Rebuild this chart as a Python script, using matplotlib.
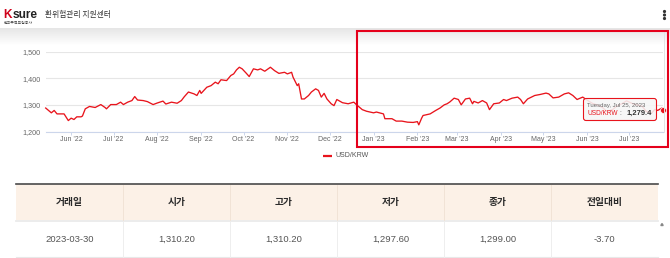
import matplotlib
matplotlib.use('Agg')
import matplotlib.pyplot as plt
from matplotlib.patches import Rectangle, FancyBboxPatch
import numpy as np
import pandas as pd

# ---------------- data ----------------
dates = [
    '2022-05-14', '2022-05-18', '2022-05-20', '2022-05-22', '2022-05-27', '2022-05-30',
    '2022-06-01', '2022-06-03', '2022-06-05', '2022-06-08', '2022-06-09', '2022-06-11',
    '2022-06-14', '2022-06-18', '2022-06-22', '2022-06-25', '2022-06-26', '2022-06-29',
    '2022-07-03', '2022-07-06', '2022-07-08', '2022-07-11', '2022-07-14', '2022-07-16',
    '2022-07-18', '2022-07-22', '2022-07-25', '2022-07-29', '2022-08-01', '2022-08-05',
    '2022-08-07', '2022-08-11', '2022-08-15', '2022-08-18', '2022-08-20', '2022-08-23',
    '2022-08-27', '2022-08-29', '2022-08-31', '2022-09-01', '2022-09-05', '2022-09-08',
    '2022-09-11', '2022-09-13', '2022-09-15', '2022-09-19', '2022-09-22', '2022-09-24',
    '2022-09-26', '2022-09-28', '2022-09-30', '2022-10-03', '2022-10-05', '2022-10-08',
    '2022-10-11', '2022-10-13', '2022-10-16', '2022-10-20', '2022-10-23', '2022-10-26',
    '2022-10-30', '2022-11-01', '2022-11-04', '2022-11-05', '2022-11-08', '2022-11-09',
    '2022-11-11', '2022-11-13', '2022-11-16', '2022-11-18', '2022-11-21', '2022-11-23',
    '2022-11-25', '2022-11-27', '2022-11-29', '2022-12-02', '2022-12-04', '2022-12-06',
    '2022-12-10', '2022-12-14', '2022-12-18', '2022-12-20', '2022-12-24', '2022-12-27',
    '2023-01-01', '2023-01-03', '2023-01-08', '2023-01-09', '2023-01-14', '2023-01-17',
    '2023-01-21', '2023-01-25', '2023-01-29', '2023-02-01', '2023-02-02', '2023-02-04',
    '2023-02-05', '2023-02-10', '2023-02-14', '2023-02-17', '2023-02-20', '2023-02-22',
    '2023-02-24', '2023-02-27', '2023-03-02', '2023-03-04', '2023-03-07', '2023-03-10',
    '2023-03-12', '2023-03-13', '2023-03-16', '2023-03-19', '2023-03-22', '2023-03-24',
    '2023-03-27', '2023-03-31', '2023-04-03', '2023-04-05', '2023-04-09', '2023-04-13',
    '2023-04-15', '2023-04-17', '2023-04-20', '2023-04-25', '2023-04-29', '2023-05-03',
    '2023-05-05', '2023-05-08', '2023-05-12', '2023-05-16', '2023-05-19', '2023-05-22',
    '2023-05-25', '2023-05-29', '2023-06-01', '2023-06-05', '2023-06-08', '2023-06-12',
    '2023-06-15', '2023-06-19', '2023-06-22', '2023-06-26', '2023-06-29', '2023-07-03',
    '2023-07-06', '2023-07-10', '2023-07-13', '2023-07-17', '2023-07-19', '2023-07-21',
    '2023-07-24', '2023-07-25',
]
values = [
    1288, 1270, 1279, 1266, 1266, 1241,
    1250, 1245, 1255, 1255, 1258, 1285,
    1294, 1290, 1301, 1290, 1285, 1301,
    1301, 1310, 1301, 1310, 1316, 1331,
    1318, 1316, 1312, 1301, 1307, 1314,
    1303, 1310, 1306, 1316, 1330, 1348,
    1341, 1335, 1354, 1343, 1366, 1372,
    1385, 1379, 1394, 1391, 1410, 1416,
    1431, 1441, 1435, 1418, 1406, 1435,
    1431, 1435, 1426, 1441, 1428, 1418,
    1422, 1416, 1422, 1404, 1372, 1379,
    1322, 1322, 1335, 1348, 1360, 1354,
    1329, 1343, 1322, 1304, 1297, 1320,
    1308, 1304, 1310, 1300, 1282, 1276,
    1270, 1273, 1266, 1248, 1248, 1239,
    1239, 1235, 1234, 1237, 1225, 1250,
    1260, 1266, 1279, 1288, 1300, 1304,
    1311, 1325, 1320, 1300, 1322, 1325,
    1304, 1313, 1307, 1316, 1307, 1282,
    1304, 1307, 1320, 1316, 1325, 1329,
    1320, 1304, 1322, 1335, 1339, 1344,
    1341, 1326, 1329, 1341, 1345, 1335,
    1320, 1329, 1318, 1305, 1300, 1290,
    1275, 1282, 1295, 1305, 1315, 1305,
    1300, 1295, 1275, 1270, 1283, 1279,
    1288, 1279.4,
]
series_name = 'USD/KRW'
tick_dates = ['2022-06-01', '2022-07-01', '2022-08-01', '2022-09-01', '2022-10-01',
              '2022-11-01', '2022-12-01', '2023-01-01', '2023-02-01', '2023-03-01',
              '2023-04-01', '2023-05-01', '2023-06-01', '2023-07-01']
tick_labels = ["Jun '22", "Jul '22", "Aug '22", "Sep '22", "Oct '22", "Nov '22", "Dec '22",
               "Jan '23", "Feb '23", "Mar '23", "Apr '23", "May '23", "Jun '23", "Jul '23"]
y_ticks = [1200, 1300, 1400, 1500]
y_tick_labels = ['1,200', '1,300', '1,400', '1,500']
tooltip_date = 'Tuesday, Jul 25, 2023'
tooltip_value = '1,279.4'
header_title = '환위험관리 지원센터'
logo_sub = '한국무역보험공사'
table_columns = ['거래일', '시가', '고가', '저가', '종가', '전일대비']
table_row = ['2023-03-30', '1,310.20', '1,310.20', '1,297.60', '1,299.00', '-3.70']

# ---------------- figure ----------------
W, H = 670, 258
fig = plt.figure(figsize=(6.7, 2.58), dpi=100)
fig.patch.set_facecolor('white')

RED = '#e8141c'
LAT = 'Liberation Sans'
KR = ['Noto Sans CJK KR', 'DejaVu Sans']

# chart axes in pixel geometry
pl, pr, pt, pb = 45.7, 663.3, 51.5, 131.5
ax = fig.add_axes([pl / W, 1 - pb / H, (pr - pl) / W, (pb - pt) / H])
x = pd.to_datetime(dates)
ax.plot(x, values, color=RED, lw=0.95, solid_joinstyle='round', zorder=3, clip_on=False)
ax.plot(x[-1:], values[-1:], 'o', color=RED, ms=4.2, mec='white', mew=0.5,
        zorder=4, clip_on=False)
ax.set_xlim(x[0], x[-1])
ax.set_ylim(y_ticks[0], y_ticks[-1])
ax.set_yticks(y_ticks, y_tick_labels)
ax.set_xticks(pd.to_datetime(tick_dates), tick_labels)
ax.grid(axis='y', color='#e6e6e6', lw=0.8, zorder=0)
for s in ['top', 'right', 'left']:
    ax.spines[s].set_visible(False)
ax.spines['bottom'].set_color('#ccd6eb')
ax.spines['bottom'].set_linewidth(0.8)
ax.tick_params(axis='y', length=0, labelsize=5.2, colors='#666666', pad=4)
ax.tick_params(axis='x', length=2.3, width=0.7, color='#ccd6eb', labelsize=5.0,
               labelcolor='#666666', pad=1.2)
for lab in ax.get_xticklabels() + ax.get_yticklabels():
    lab.set_fontfamily(LAT)
ax.set_facecolor('none')

# ---------------- overlay in pixel coordinates ----------------
ov = fig.add_axes([0, 0, 1, 1])
ov.set_xlim(0, W)
ov.set_ylim(H, 0)
ov.axis('off')
ov.set_facecolor('none')

# header shadow
grad = np.linspace(0, 1, 64).reshape(-1, 1)
shade = np.ones((64, 1, 3))
g0 = 0.90
for i in range(3):
    shade[:, 0, i] = g0 + (1 - g0) * grad[:, 0]
ov.imshow(shade, extent=[0, W, 45, 28], aspect='auto', zorder=0, interpolation='bilinear')
ov.set_xlim(0, W)
ov.set_ylim(H, 0)

# logo and title
ov.text(3.5, 17.5, 'K', color='#d0021b', fontsize=8.6, fontweight='bold', family=LAT,
        va='baseline', ha='left')
ov.text(12.6, 17.5, 'sure', color='#222222', fontsize=8.6, fontweight='bold', family=LAT,
        va='baseline', ha='left')
ov.text(4, 22.8, logo_sub, color='#444444', fontsize=2.8, family=KR, va='center', ha='left')
ov.text(45, 15, header_title, color='#333333', fontsize=5.6, family=KR, va='center', ha='left')
for yy in (11.5, 15, 18.5):
    ov.add_patch(plt.Circle((664.5, yy), 0.9, color='#333333', zorder=5))

# right border line of chart container
ov.plot([663.5, 663.5], [32, 132], color='#e4e4e4', lw=0.7, zorder=1)

# legend
ov.plot([322.5, 331.5], [155.5, 155.5], color=RED, lw=1.6, solid_capstyle='butt')
ov.text(335, 155.5, series_name, color='#555555', fontsize=5.0, family=LAT, va='center',
        ha='left')

# tooltip
tip = FancyBboxPatch((583.5, 98.5), 73, 22, boxstyle='round,pad=0,rounding_size=2.5',
                     fc=(0.97, 0.97, 0.97, 0.88), ec=RED, lw=0.8, zorder=6)
ov.add_patch(tip)
ov.text(587, 105, tooltip_date, color='#666666', fontsize=4.3, family=LAT, va='center',
        ha='left', zorder=7)
ov.text(587, 113.5, series_name, color=RED, fontsize=4.7, family=LAT, va='center',
        ha='left', zorder=7)
ov.text(619.5, 113.5, ':', color='#666666', fontsize=4.7, family=LAT, va='center',
        ha='left', zorder=7)
ov.text(652, 113.5, tooltip_value, color='#333333', fontsize=5.4, family=LAT,
        fontweight='bold', va='center', ha='right', zorder=7)

# red highlight rectangle
ov.add_patch(Rectangle((356.7, 31.2), 310.8, 115.3, fill=False, ec='#e5001b', lw=1.5,
                       zorder=8))

# ---------------- table ----------------
tl, tr = 16, 658
ncol = len(table_columns)
cw = (tr - tl) / ncol
ov.add_patch(Rectangle((tl, 184.2), tr - tl, 35.3, fc='#fcf1e7', ec='none', zorder=1))
ov.plot([tl, tr], [183.6, 183.6], color='#4a4a4a', lw=1.2, zorder=2)
ov.plot([tl, tr], [221.3, 221.3], color='#ebebeb', lw=1.3, zorder=2)
ov.plot([tl, tr], [256.6, 256.6], color='#e8e8e8', lw=0.8, zorder=2)
for i in range(1, ncol):
    xb = tl + i * cw
    ov.plot([xb, xb], [184.5, 219.5], color='#f1e3d6', lw=0.7, zorder=2)
    ov.plot([xb, xb], [222.2, 256.5], color='#eeeeee', lw=0.7, zorder=2)
for i, (hd, cell) in enumerate(zip(table_columns, table_row)):
    cx = tl + (i + 0.5) * cw
    ov.text(cx, 201.5, hd, color='#2b2b2b', fontsize=7.0, family=KR, fontweight='bold',
            va='center', ha='center')
    ov.text(cx, 239.5, cell, color='#555555', fontsize=6.8, family=LAT, va='center',
            ha='center')
# scroll arrow
ov.add_patch(plt.Polygon([[660.8, 225.5], [663.2, 225.5], [662.0, 223.5]], closed=True,
                         color='#888888', zorder=3))

fig.savefig('out.png', dpi=100, facecolor='white')
